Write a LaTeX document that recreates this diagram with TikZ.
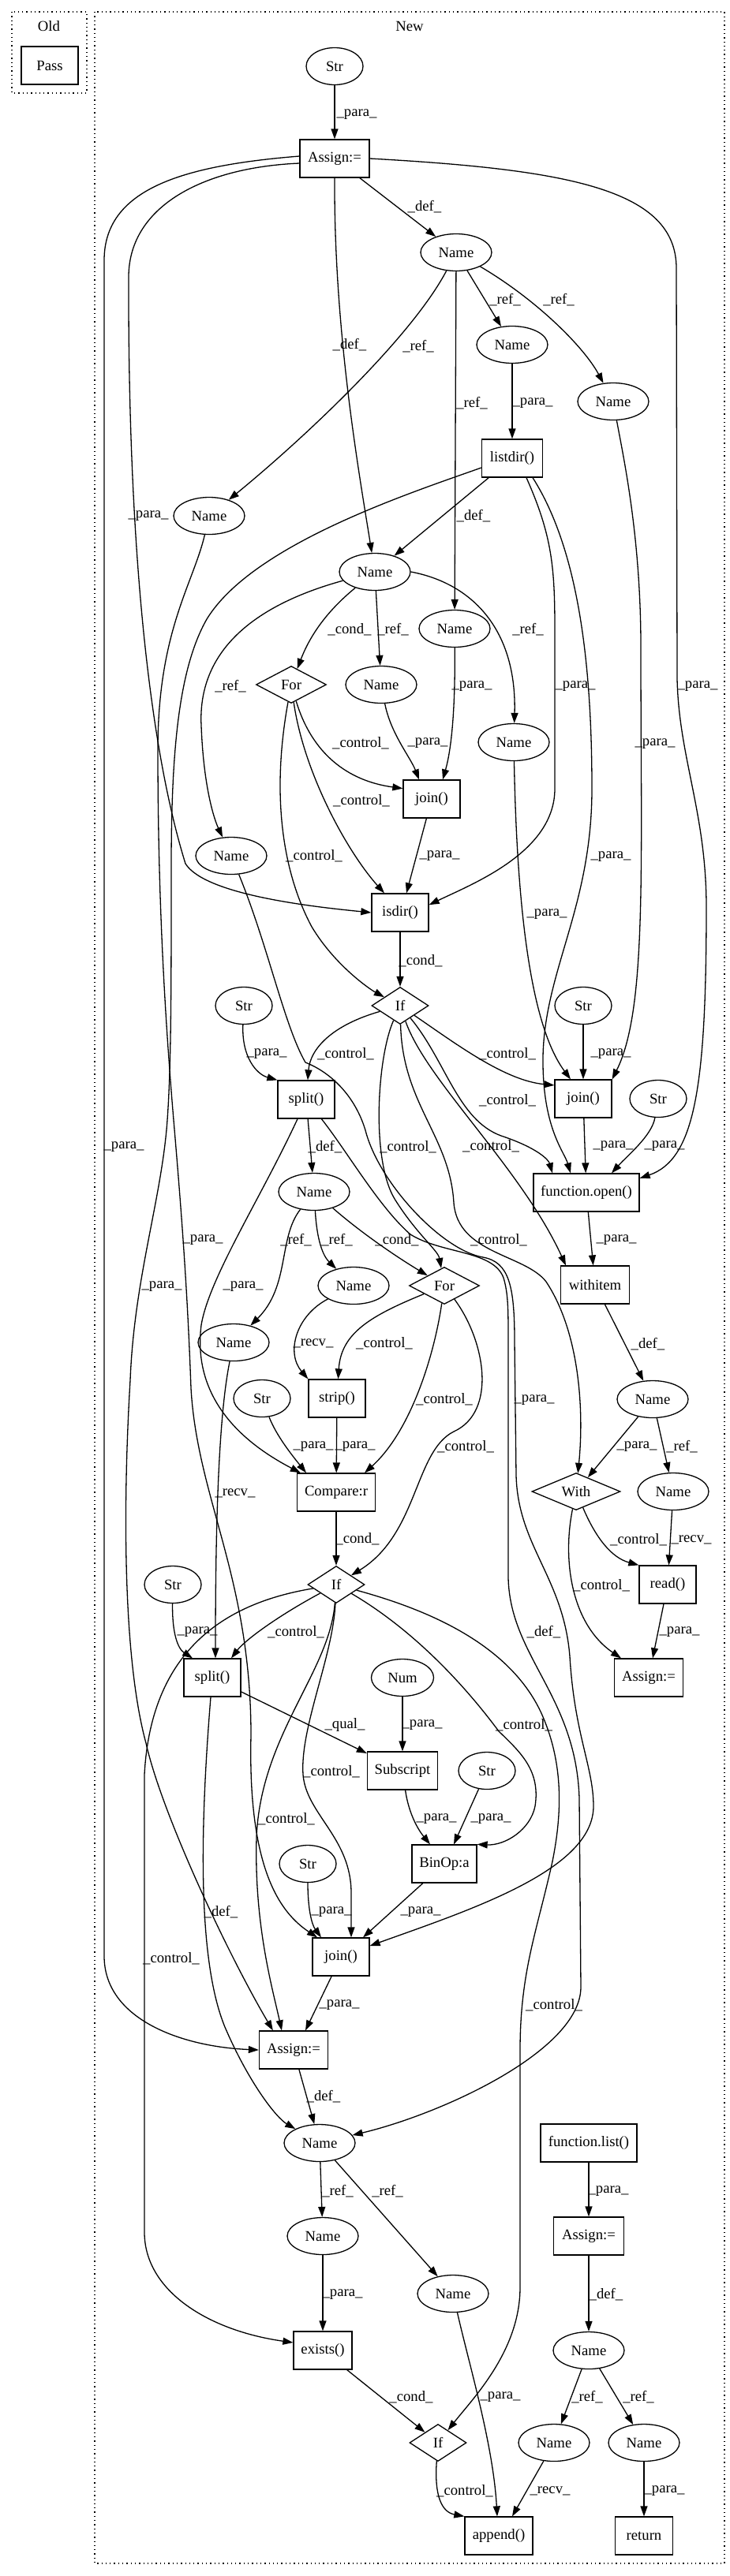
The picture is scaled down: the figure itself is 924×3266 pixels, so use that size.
\documentclass[tikz,border=0pt]{standalone}
\usepackage{fontspec}
\setmainfont{Liberation Serif}
\usepackage{tikz}
\usetikzlibrary{shapes.geometric, arrows.meta}
\newcommand{\gvfont}{\fontsize{18.7pt}{22pt}\selectfont}

\begin{document}
\begin{tikzpicture}[
  x=1pt, y=-1pt,
  every node/.style={font=\gvfont},
  box/.style={rectangle, draw=black, line width=1.3pt, minimum width=72pt,
              minimum height=48pt, inner sep=2pt},
  oval/.style={ellipse, draw=black, line width=1.3pt, minimum width=90pt,
               minimum height=47pt, inner sep=0pt},
  cond/.style={diamond, draw=black, line width=1.3pt, minimum width=72pt,
               minimum height=47pt, inner sep=0pt, shape aspect=2},
  cluster/.style={draw=black, line width=1.3pt, dash pattern=on 1.3pt off 4pt},
  arr/.style={-{Triangle[length=13pt,width=9pt]}, line width=1.3pt},
  lbl/.style={inner sep=0pt}
]
\useasboundingbox (0,0) rectangle (924,3266);

\draw[cluster] (15,15) rectangle (110,118);
\node (oldlbl) at (62,33) {Old};
\node[box] (pass) at (63,83) {Pass};
\draw[cluster] (120,15) rectangle (918,3250);
\node (newlbl) at (519,33) {New};

\node[oval, minimum width=72pt] (str1) at (424,84) {Str};
\node[box, minimum width=88pt] (asg1) at (424,201) {Assign:=};
\node[oval] (nm1) at (578,320) {Name};
\node[oval] (nm2) at (649,437) {Name};
\node[oval] (nm3) at (777,509) {Name};
\node[box, minimum width=77pt] (listdir) at (649,581) {listdir()};
\node[oval] (nm4) at (265,654) {Name};
\node[oval] (nm5) at (475,725) {Name};
\node[oval] (nm6) at (576,797) {Name};
\node[cond, minimum width=89pt] (for1) at (369,868) {For};
\node[oval] (nm7) at (483,868) {Name};
\node[oval] (nm8) at (651,941) {Name};
\node[box] (join1) at (547,1013) {join()};
\node[oval] (nm9) at (293,1085) {Name};
\node[box] (isdir) at (507,1157) {isdir()};
\node[cond] (if1) at (507,1275) {If};
\node[oval, minimum width=72pt] (str2) at (309,1275) {Str};
\node[oval, minimum width=72pt] (str3) at (739,1275) {Str};
\node[box] (split1) at (388,1394) {split()};
\node[box] (join2) at (739,1393) {join()};
\node[oval, minimum width=72pt] (str4) at (834,1393) {Str};
\node[oval] (nm10) at (398,1511) {Name};
\node[box, minimum width=134pt] (fopen) at (743,1512) {function.open()};
\node[oval] (nm11) at (448,1630) {Name};
\node[cond, minimum width=89pt] (for2) at (563,1630) {For};
\node[box, minimum width=87pt] (withitem) at (754,1629) {withitem};
\node[oval] (nm12) at (296,1702) {Name};
\node[box] (strip) at (427,1773) {strip()};
\node[oval, minimum width=72pt] (str5) at (332,1773) {Str};
\node[oval] (nm13) at (827,1774) {Name};
\node[box, minimum width=99pt] (compare) at (426,1892) {Compare:r};
\node[cond, minimum width=112pt] (with) at (730,1891) {With};
\node[oval] (nm14) at (853,1891) {Name};
\node[oval, minimum width=72pt] (str6) at (219,2009) {Str};
\node[cond] (if2) at (426,2009) {If};
\node[box] (read) at (846,2009) {read()};
\node[box] (split2) at (269,2127) {split()};
\node[oval, minimum width=79pt] (num) at (510,2127) {Num};
\node[box, minimum width=87pt] (asg2) at (822,2127) {Assign:=};
\node[box, minimum width=89pt] (subscr) at (510,2245) {Subscript};
\node[oval, minimum width=72pt] (str7) at (617,2245) {Str};
\node[box, minimum width=82pt] (binop) at (563,2363) {BinOp:a};
\node[oval, minimum width=72pt] (str8) at (390,2363) {Str};
\node[box] (join3) at (432,2481) {join()};
\node[box, minimum width=87pt] (asg3) at (372,2599) {Assign:=};
\node[oval] (nm15) at (405,2717) {Name};
\node[box, minimum width=122pt] (flist) at (746,2717) {function.list()};
\node[oval] (nm16) at (409,2835) {Name};
\node[box, minimum width=89pt] (asg4) at (746,2835) {Assign:=};
\node[oval] (nm17) at (574,2908) {Name};
\node[box, minimum width=74pt] (exists) at (409,2980) {exists()};
\node[oval] (nm18) at (746,2980) {Name};
\node[cond] (if3) at (555,3097) {If};
\node[oval] (nm19) at (702,3097) {Name};
\node[oval] (nm20) at (816,3097) {Name};
\node[box, minimum width=86pt] (append) at (632,3215) {append()};
\node[box, minimum width=73pt] (ret) at (816,3215) {return};

\draw[arr] (str1) -- (asg1) node[lbl] at (452,145) {\_para\_};
\draw[arr] (asg1) -- (nm1) node[lbl] at (538,262) {\_def\_};
\draw[arr] (asg1.south) .. controls (423,420) and (455,600) .. (nm5) node[lbl] at (443,437) {\_def\_};
\draw[arr] ([yshift=3pt]asg1.west) .. controls (230,210) and (132,240) .. (132,330) -- (132,2480) .. controls (132,2560) and (230,2595) .. (asg3.west) node[lbl] at (157,1454) {\_para\_};
\draw[arr] ([yshift=-6pt]asg1.west) .. controls (260,212) and (164,260) .. (163,350) .. controls (162,700) and (190,950) .. (235,1095) .. controls (260,1135) and (400,1150) .. (isdir.west) node[lbl] at (188,654) {\_para\_};
\draw[arr] (asg1.east) .. controls (720,215) and (857,240) .. (857,340) -- (858,860) .. controls (860,960) and (895,1030) .. (895,1150) .. controls (895,1380) and (880,1470) .. (fopen.15) node[lbl] at (884,870) {\_para\_};

\draw[arr] (nm1) -- (nm2) node[lbl] at (640,380) {\_ref\_};
\draw[arr] (nm1) .. controls (680,380) and (740,440) .. (nm3) node[lbl] at (708,380) {\_ref\_};
\draw[arr] (nm1) -- (nm6) node[lbl] at (598,511) {\_ref\_};
\draw[arr] (nm1) .. controls (520,430) and (380,560) .. (nm4) node[lbl] at (530,439) {\_ref\_};
\draw[arr] (nm2) -- (listdir) node[lbl] at (675,511) {\_para\_};
\draw[arr] (nm3) .. controls (790,580) and (812,680) .. (812,820) .. controls (812,1100) and (820,1280) .. (join2.north east) node[lbl] at (830,943) {\_para\_};

\draw[arr] (listdir) -- (nm5) node[lbl] at (600,654) {\_def\_};
\draw[arr] ([yshift=-12pt]listdir.west) .. controls (520,625) and (320,690) .. (262,785) .. controls (225,850) and (217,960) .. (217,1100) .. controls (217,1250) and (217,1350) .. (212,1420) .. controls (205,1520) and (170,1620) .. (165,1750) .. controls (156,1900) and (155,2100) .. (185,2210) .. controls (205,2300) and (290,2480) .. ([xshift=18pt]asg3.north west) node[lbl] at (205,1631) {\_para\_};
\draw[arr] ([xshift=18pt]listdir.south) .. controls (700,680) and (703,720) .. (703,800) -- (703,1000) .. controls (703,1080) and (600,1120) .. (isdir.15) node[lbl] at (729,870) {\_para\_};
\draw[arr] ([xshift=26pt]listdir.south) .. controls (735,700) and (750,850) .. (750,1000) .. controls (750,1150) and (690,1230) .. (688,1340) .. controls (687,1430) and (715,1460) .. ([xshift=-20pt]fopen.north) node[lbl] at (774,1086) {\_para\_};

\draw[arr] (nm4) .. controls (245,740) and (200,800) .. (200,950) .. controls (200,1150) and (210,1300) .. (220,1420) .. controls (232,1560) and (238,1650) .. (242,1760) .. controls (250,1900) and (318,2000) .. (318,2200) .. controls (314,2370) and (355,2425) .. ([xshift=-30pt]join3.north) node[lbl] at (257,1572) {\_para\_};

\draw[arr] (nm5) .. controls (420,770) and (395,800) .. (for1) node[lbl] at (443,798) {\_cond\_};
\draw[arr] (nm5) -- (nm7) node[lbl] at (498,798) {\_ref\_};
\draw[arr] (nm5.east) .. controls (600,740) and (655,800) .. (nm8) node[lbl] at (669,798) {\_ref\_};
\draw[arr] (nm5) .. controls (330,765) and (250,820) .. (255,920) .. controls (258,1000) and (272,1040) .. (nm9) node[lbl] at (292,870) {\_ref\_};

\draw[arr] (for1) .. controls (395,955) and (440,990) .. (join1.160) node[lbl] at (457,942) {\_control\_};
\draw[arr] (for1) .. controls (385,980) and (440,1080) .. ([xshift=-20pt]isdir.north) node[lbl] at (458,1015) {\_control\_};
\draw[arr] (for1) .. controls (345,1000) and (355,1100) .. (395,1175) .. controls (425,1225) and (470,1255) .. (if1) node[lbl] at (398,1085) {\_control\_};
\draw[arr] (nm7) .. controls (495,930) and (520,960) .. ([xshift=-16pt]join1.north) node[lbl] at (542,942) {\_para\_};
\draw[arr] (nm6) .. controls (577,900) and (572,950) .. ([xshift=14pt]join1.north) node[lbl] at (598,870) {\_para\_};
\draw[arr] (join1) -- ([xshift=8pt]isdir.north) node[lbl] at (557,1085) {\_para\_};
\draw[arr] (isdir) -- (if1) node[lbl] at (533,1218) {\_cond\_};

\draw[arr] (str2) .. controls (306,1340) and (325,1362) .. (split1.north west) node[lbl] at (338,1336) {\_para\_};
\draw[arr] (if1) .. controls (420,1300) and (393,1330) .. (split1) node[lbl] at (438,1336) {\_control\_};
\draw[arr] (if1) .. controls (580,1325) and (640,1370) .. (join2.155) node[lbl] at (643,1336) {\_control\_};
\draw[arr] (if1) .. controls (565,1345) and (580,1420) .. (635,1440) .. controls (680,1455) and (695,1470) .. ([xshift=-43pt]fopen.north) node[lbl] at (643,1395) {\_control\_};
\draw[arr] (if1) .. controls (540,1370) and (660,1480) .. ([xshift=-37pt]withitem.north) node[lbl] at (622,1453) {\_control\_};
\draw[arr] (if1) .. controls (510,1400) and (570,1440) .. (575,1525) .. controls (580,1590) and (665,1590) .. (692,1625) .. controls (735,1690) and (740,1790) .. (with) node[lbl] at (632,1572) {\_control\_};
\draw[arr] (if1) .. controls (478,1340) and (470,1470) .. (500,1520) .. controls (528,1565) and (555,1585) .. (for2) node[lbl] at (517,1454) {\_control\_};

\draw[arr] (str3) -- (join2) node[lbl] at (774,1336) {\_para\_};
\draw[arr] (nm8) .. controls (655,1150) and (672,1300) .. ([xshift=-16pt]join2.north) node[lbl] at (693,1159) {\_para\_};
\draw[arr] (join2) -- (fopen) node[lbl] at (777,1453) {\_para\_};
\draw[arr] (str4) .. controls (826,1440) and (795,1465) .. ([xshift=32pt]fopen.north) node[lbl] at (842,1453) {\_para\_};
\draw[arr] (fopen) -- (withitem) node[lbl] at (781,1572) {\_para\_};
\draw[arr] (withitem) -- (nm13) node[lbl] at (821,1704) {\_def\_};
\draw[arr] (nm13) -- (with) node[lbl] at (807,1834) {\_para\_};
\draw[arr] (nm13) -- (nm14) node[lbl] at (864,1834) {\_ref\_};
\draw[arr] (with) .. controls (755,1950) and (775,1975) .. (read.north west) node[lbl] at (809,1952) {\_control\_};
\draw[arr] (nm14) -- (read) node[lbl] at (876,1952) {\_recv\_};
\draw[arr] (with) .. controls (712,1980) and (725,2060) .. ([xshift=-35pt]asg2.north) node[lbl] at (762,2010) {\_control\_};
\draw[arr] (read) -- ([xshift=5pt]asg2.north) node[lbl] at (861,2069) {\_para\_};

\draw[arr] (split1) -- (nm10) node[lbl] at (412,1454) {\_def\_};
\draw[arr] ([xshift=-11pt]split1.south) .. controls (330,1520) and (265,1620) .. (255,1680) .. controls (245,1760) and (290,1820) .. ([xshift=5pt]compare.north west) node[lbl] at (308,1631) {\_para\_};
\draw[arr] (split1) .. controls (440,1460) and (480,1530) .. (520,1565) .. controls (560,1590) and (625,1585) .. (638,1620) .. controls (644,1640) and (644,1660) .. (644,1700) -- (644,2000) .. controls (646,2100) and (730,2150) .. (734,2280) -- (736,2520) .. controls (735,2600) and (560,2680) .. (nm15) node[lbl] at (689,2069) {\_def\_};
\draw[arr] (nm9) .. controls (340,1200) and (360,1300) .. (387,1347) .. controls (420,1360) and (450,1390) .. (463,1433) .. controls (480,1500) and (560,1585) .. (612,1594) .. controls (645,1600) and (652,1630) .. (652,1700) -- (654,1870) .. controls (656,1960) and (714,2000) .. (722,2100) .. controls (728,2200) and (752,2240) .. (752,2290) .. controls (752,2370) and (600,2420) .. ([yshift=14pt]join3.east) node[lbl] at (677,1775) {\_para\_};

\draw[arr] (nm10) .. controls (352,1570) and (368,1630) .. (nm12) node[lbl] at (375,1572) {\_ref\_};
\draw[arr] (nm10) .. controls (402,1580) and (412,1595) .. (nm11) node[lbl] at (427,1572) {\_ref\_};
\draw[arr] (nm10) .. controls (460,1565) and (505,1595) .. (for2) node[lbl] at (503,1572) {\_cond\_};
\draw[arr] (nm11) .. controls (375,1668) and (362,1715) .. (strip.north west) node[lbl] at (397,1703) {\_recv\_};
\draw[arr] (for2) .. controls (470,1668) and (432,1690) .. (strip) node[lbl] at (487,1703) {\_control\_};
\draw[arr] (for2) .. controls (550,1720) and (520,1815) .. ([xshift=36pt]compare.north) node[lbl] at (563,1774) {\_control\_};
\draw[arr] (for2) .. controls (615,1700) and (630,1790) .. (575,1815) .. controls (525,1840) and (530,1945) .. (if2) node[lbl] at (590,1834) {\_control\_};
\draw[arr] (str5) .. controls (350,1820) and (370,1845) .. ([xshift=-38pt]compare.north) node[lbl] at (397,1834) {\_para\_};
\draw[arr] (strip) -- (compare) node[lbl] at (450,1834) {\_para\_};
\draw[arr] (compare) -- (if2) node[lbl] at (453,1951) {\_cond\_};

\draw[arr] (str6) .. controls (218,2070) and (225,2090) .. ([xshift=-25pt]split2.north) node[lbl] at (250,2069) {\_para\_};
\draw[arr] (nm12) .. controls (276,1800) and (273,1950) .. ([xshift=4pt]split2.north) node[lbl] at (298,1893) {\_recv\_};
\draw[arr] (if2) .. controls (350,2050) and (310,2080) .. ([xshift=24pt]split2.north) node[lbl] at (375,2069) {\_control\_};
\draw[arr] (if2) .. controls (300,2030) and (192,2080) .. (183,2250) -- (183,2830) .. controls (183,2905) and (265,2955) .. ([yshift=10pt]exists.west) node[lbl] at (217,2483) {\_control\_};
\draw[arr] (split2) -- (subscr) node[lbl] at (437,2187) {\_qual\_};
\draw[arr] (num) -- (subscr) node[lbl] at (535,2187) {\_para\_};
\draw[arr] (if2) .. controls (530,2070) and (595,2145) .. (632,2195) .. controls (660,2222) and (685,2245) .. (678,2290) .. controls (672,2320) and (640,2340) .. (binop.north east) node[lbl] at (664,2187) {\_control\_};
\draw[arr] (if2) .. controls (520,2035) and (640,2075) .. (685,2170) .. controls (715,2235) and (712,2300) .. (700,2360) .. controls (680,2450) and (659,2500) .. (659,2600) -- (659,2900) .. controls (659,2980) and (600,3040) .. (if3) node[lbl] at (702,2542) {\_control\_};
\draw[arr] (subscr) .. controls (518,2300) and (530,2320) .. ([xshift=-18pt]binop.north) node[lbl] at (553,2306) {\_para\_};
\draw[arr] (str7) -- ([xshift=12pt]binop.north) node[lbl] at (622,2306) {\_para\_};
\draw[arr] (binop) -- ([xshift=28pt]join3.north) node[lbl] at (533,2424) {\_para\_};
\draw[arr] (str8) .. controls (390,2420) and (395,2440) .. ([xshift=-25pt]join3.north) node[lbl] at (420,2424) {\_para\_};
\draw[arr] (if2) .. controls (422,2100) and (380,2190) .. (384,2250) .. controls (388,2300) and (445,2330) .. (445,2400) -- ([xshift=13pt]join3.north) node[lbl] at (420,2246) {\_control\_};
\draw[arr] (if2) .. controls (418,2120) and (330,2200) .. (325,2330) .. controls (322,2440) and (345,2520) .. ([xshift=-15pt]asg3.north) node[lbl] at (363,2306) {\_control\_};
\draw[arr] (join3) -- ([xshift=15pt]asg3.north) node[lbl] at (430,2542) {\_para\_};
\draw[arr] (asg3) -- (nm15) node[lbl] at (410,2658) {\_def\_};
\draw[arr] (split2) .. controls (255,2300) and (248,2480) .. (285,2570) .. controls (315,2640) and (350,2685) .. (nm15) node[lbl] at (280,2424) {\_def\_};

\draw[arr] (nm15) -- (nm16) node[lbl] at (428,2778) {\_ref\_};
\draw[arr] (nm15) -- (nm17) node[lbl] at (491,2778) {\_ref\_};
\draw[arr] (nm16) -- (exists) node[lbl] at (434,2909) {\_para\_};
\draw[arr] (exists) -- (if3) node[lbl] at (521,3039) {\_cond\_};
\draw[arr] (if3) .. controls (550,3165) and (560,3185) .. (append.north west) node[lbl] at (589,3158) {\_control\_};
\draw[arr] (nm17) .. controls (595,3000) and (625,3100) .. ([xshift=-2pt]append.north) node[lbl] at (634,3039) {\_para\_};
\draw[arr] (nm19) -- ([xshift=17pt]append.north) node[lbl] at (697,3158) {\_recv\_};
\draw[arr] (nm20) -- (ret) node[lbl] at (842,3158) {\_para\_};
\draw[arr] (flist) -- (asg4) node[lbl] at (771,2778) {\_para\_};
\draw[arr] (asg4) -- (nm18) node[lbl] at (768,2909) {\_def\_};
\draw[arr] (nm18) -- (nm19) node[lbl] at (744,3039) {\_ref\_};
\draw[arr] (nm18) -- (nm20) node[lbl] at (809,3039) {\_ref\_};
\end{tikzpicture}
\end{document}
